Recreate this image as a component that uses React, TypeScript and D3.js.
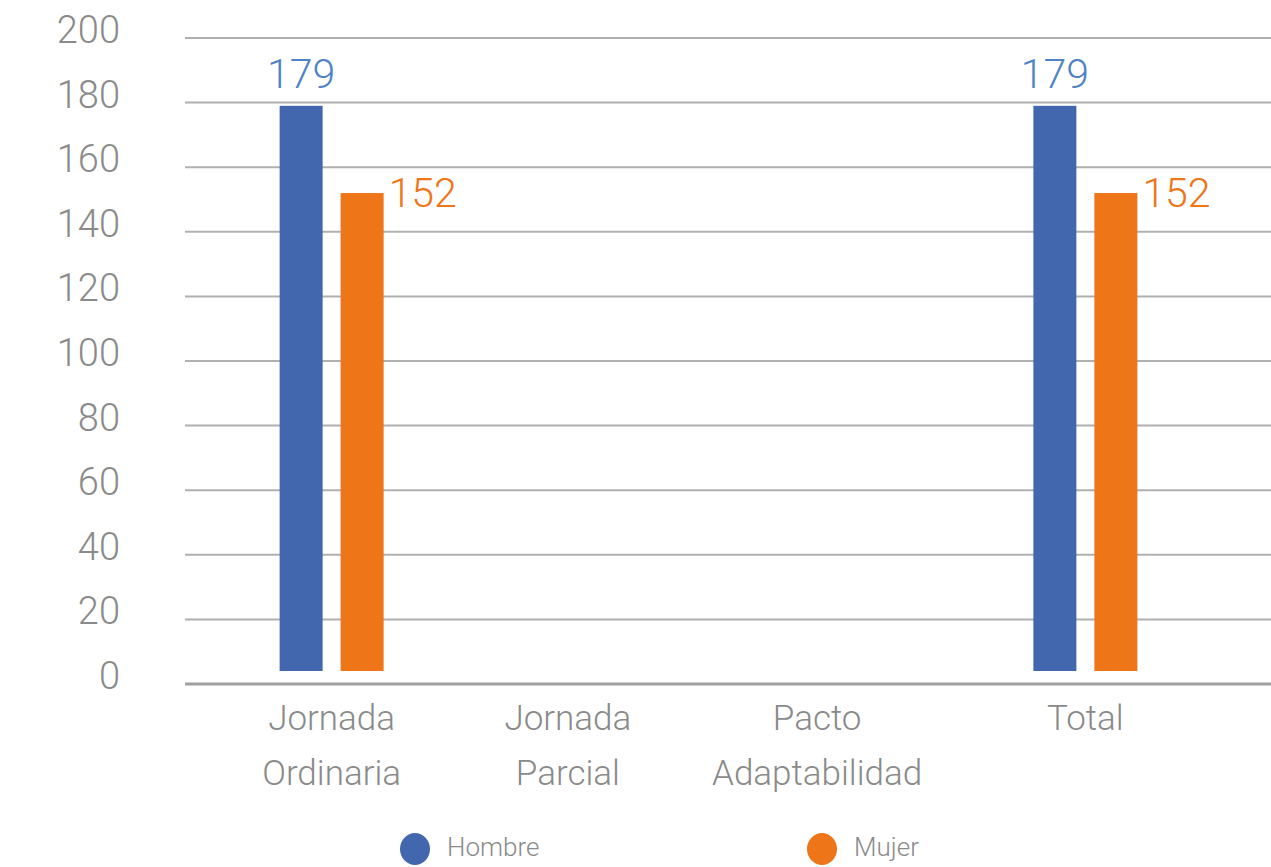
import { useMemo } from "react";
import * as d3 from "d3";

const width = 1271;
const height = 867;

const categories = [
  ["Jornada", "Ordinaria"],
  ["Jornada", "Parcial"],
  ["Pacto", "Adaptabilidad"],
  ["Total"],
];
const series = ["Hombre", "Mujer"];
const hombre = [179, null, null, 179];
const mujer = [152, null, null, 152];
const yTicks = [0, 20, 40, 60, 80, 100, 120, 140, 160, 180, 200];

const colors = { Hombre: "#4367ae", Mujer: "#ee7518" };
const labelColors = { Hombre: "#4f82c6", Mujer: "#ee7518" };
const grey = "#8a8a8a";
const font = "Roboto, 'Open Sans', sans-serif";

const plotLeft = 185;
const plotRight = 1271;

export default function App() {
  const y = useMemo(() => d3.scaleLinear().domain([0, 200]).range([684, 38]), []);
  const x0 = useMemo(
    () =>
      d3
        .scaleBand()
        .domain(categories.map((_, i) => String(i)))
        .range([206, 1211])
        .padding(0),
    []
  );
  const bw = x0.bandwidth();
  const x1 = useMemo(
    () =>
      d3
        .scaleBand()
        .domain(series)
        .range([bw / 2 - 52, bw / 2 + 52])
        .paddingInner(0.295),
    [bw]
  );

  const values = { Hombre: hombre, Mujer: mujer };

  return (
    <svg
      width={width}
      height={height}
      style={{ position: "absolute", left: 0, top: 0, background: "#fff" }}
      fontFamily={font}
      fontWeight={300}
    >
      {/* gridlines */}
      {yTicks.map((t) => (
        <line
          key={t}
          x1={plotLeft}
          x2={plotRight}
          y1={y(t)}
          y2={y(t)}
          stroke={t === 0 ? "#a0a0a0" : "#b0b0b0"}
          strokeWidth={t === 0 ? 3 : 2}
        />
      ))}
      {/* y labels */}
      {yTicks.map((t) => (
        <text
          key={"l" + t}
          x={120}
          y={y(t) - 5}
          textAnchor="end"
          dominantBaseline="middle"
          fontSize={38}
          fill={grey}
        >
          {t}
        </text>
      ))}
      {/* bars */}
      {categories.map((c, i) => (
        <g key={i} transform={`translate(${x0(String(i))},0)`}>
          {series.map((s) => {
            const v = values[s][i];
            if (v == null) return null;
            const bx = x1(s)!;
            return (
              <g key={s}>
                <rect
                  x={bx}
                  y={y(v)}
                  width={x1.bandwidth()}
                  height={y(0) - 13 - y(v)}
                  fill={colors[s]}
                />
                {s === "Hombre" ? (
                  <text
                    x={bx + x1.bandwidth() / 2}
                    y={y(v) - 18}
                    textAnchor="middle"
                    fontSize={41}
                    fill={labelColors[s]}
                  >
                    {v}
                  </text>
                ) : (
                  <text
                    x={bx + x1.bandwidth() + 5}
                    y={y(v) + 14}
                    textAnchor="start"
                    fontSize={41}
                    fill={labelColors[s]}
                  >
                    {v}
                  </text>
                )}
              </g>
            );
          })}
          {c.map((line, j) => (
            <text
              key={j}
              x={bw / 2 - (i === 1 ? 15 : i === 2 ? 17 : 0)}
              y={730 + j * 55}
              textAnchor="middle"
              fontSize={35}
              fill={grey}
            >
              {line}
            </text>
          ))}
        </g>
      ))}
      {/* legend */}
      {series.map((s, i) => {
        const lx = 415 + i * 407;
        return (
          <g key={s} transform={`translate(${lx},849)`}>
            <ellipse rx={15} ry={16} fill={colors[s]} />
            <text x={32} y={0} dominantBaseline="middle" fontSize={26} fill={grey}>
              {s}
            </text>
          </g>
        );
      })}
    </svg>
  );
}
